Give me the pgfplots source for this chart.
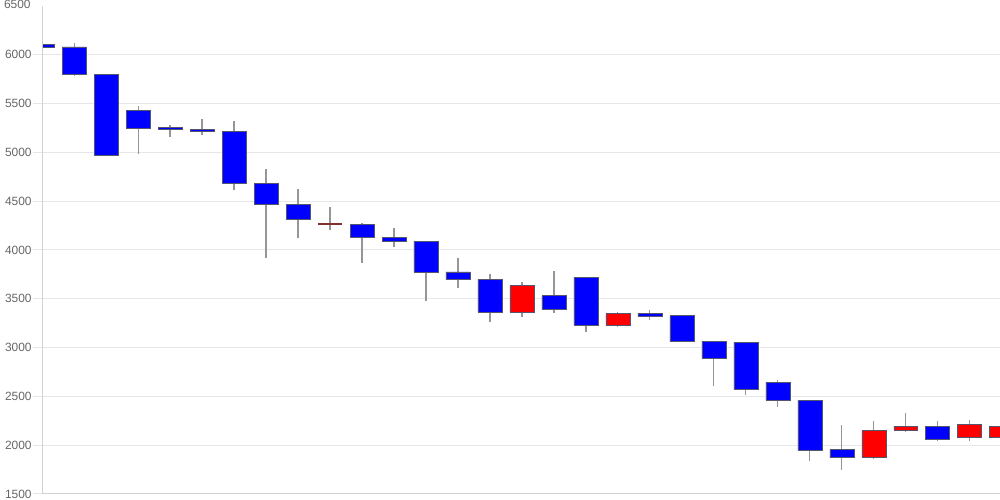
\documentclass[border=0pt]{standalone}
\usepackage{pgfplots}
\pgfplotsset{compat=1.18}
\usepackage{pgfplotstable}
\usepackage{fontspec}
\setmainfont{Liberation Sans}
\definecolor{gridc}{RGB}{230,230,230}
\definecolor{axc}{RGB}{210,210,210}
\definecolor{lblc}{RGB}{102,102,102}
\definecolor{wickc}{RGB}{150,150,150}
\definecolor{bordc}{RGB}{85,85,110}
\definecolor{dojic}{RGB}{128,50,50}

\pgfplotstableread{
x o h l c
0 6110 6140 6060 6080
1 6080 6120 5780 5800
2 5800 5800 4970 4970
3 5430 5480 4980 5250
4 5255 5280 5160 5240
5 5235 5340 5180 5210
6 5210 5320 4610 4680
7 4680 4830 3920 4470
8 4470 4630 4120 4310
9 4260 4440 4200 4260
10 4265 4280 3870 4130
11 4130 4230 4035 4090
12 4090 4095 3480 3770
13 3775 3920 3615 3700
14 3700 3750 3260 3360
15 3360 3670 3315 3640
16 3530 3785 3350 3390
17 3720 3725 3160 3230
18 3230 3360 3210 3350
19 3350 3385 3280 3320
20 3325 3325 3060 3060
21 3065 3065 2610 2890
22 3055 3060 2510 2570
23 2645 2665 2390 2460
24 2460 2465 1840 1950
25 1955 2205 1745 1870
26 1870 2245 1860 2155
27 2155 2330 2140 2195
28 2195 2245 2040 2060
29 2080 2255 2040 2215
30 2080 2230 2075 2195
}\candles

\begin{document}
\begin{tikzpicture}
\pgfplotsset{
  common/.style={
    scale only axis, width=19.14cm, height=9.76cm,
    xmin=0.03, xmax=29.94, ymin=1500, ymax=6500,
    at={(0,0)}, anchor=south west,
  }
}
\begin{axis}[common, name=ax,
  axis lines*=left,
  axis line style={draw=axc, line width=0.57pt},
  xtick=\empty,
  ytick={1500,2000,...,6000},
  extra y ticks={6500},
  extra y tick style={grid=none, major tick length=0pt, yticklabel style={xshift=-0.22cm, yshift=0.03cm}},
  ymajorgrids, major grid style={draw=gridc, line width=0.57pt},
  tick align=outside, major tick length=0.2cm,
  ytick style={draw=gridc, line width=0.57pt},
  yticklabel style={font=\fontsize{6.8}{8}\selectfont, text=lblc, anchor=east, inner sep=0pt, xshift=-0.02cm},
  /pgf/number format/assume math mode=true,
  /pgf/number format/1000 sep={},
]
\addplot[draw=none, mark=none, forget plot,
  error bars/.cd, y dir=both, y explicit, error mark=none,
  error bar style={draw=wickc, line width=0.6pt}]
  table[x=x, y expr={(\thisrow{h}+\thisrow{l})/2}, y error expr={(\thisrow{h}-\thisrow{l})/2}] {\candles};
\end{axis}
\begin{axis}[common, axis lines=none, ybar stacked, bar width=0.75]
\addplot[fill=none, draw=none] table[x=x, y expr={min(\thisrow{o},\thisrow{c})}]{\candles};
\addplot[fill=blue, draw=bordc, line width=0.5pt] table[x=x, y expr={max(\thisrow{o}-\thisrow{c},0)}]{\candles};
\addplot[fill=red, draw=bordc, line width=0.5pt] table[x=x, y expr={max(\thisrow{c}-\thisrow{o},0)}]{\candles};
\addplot[fill=dojic, draw=none] table[x=x, y expr={ifthenelse(\thisrow{o}==\thisrow{c},14,0)}]{\candles};
\end{axis}
\pgfresetboundingbox
\path[use as bounding box] (ax.south west) ++(-0.86cm,-0.12cm) rectangle ++(20cm,10cm);
\end{tikzpicture}
\end{document}
